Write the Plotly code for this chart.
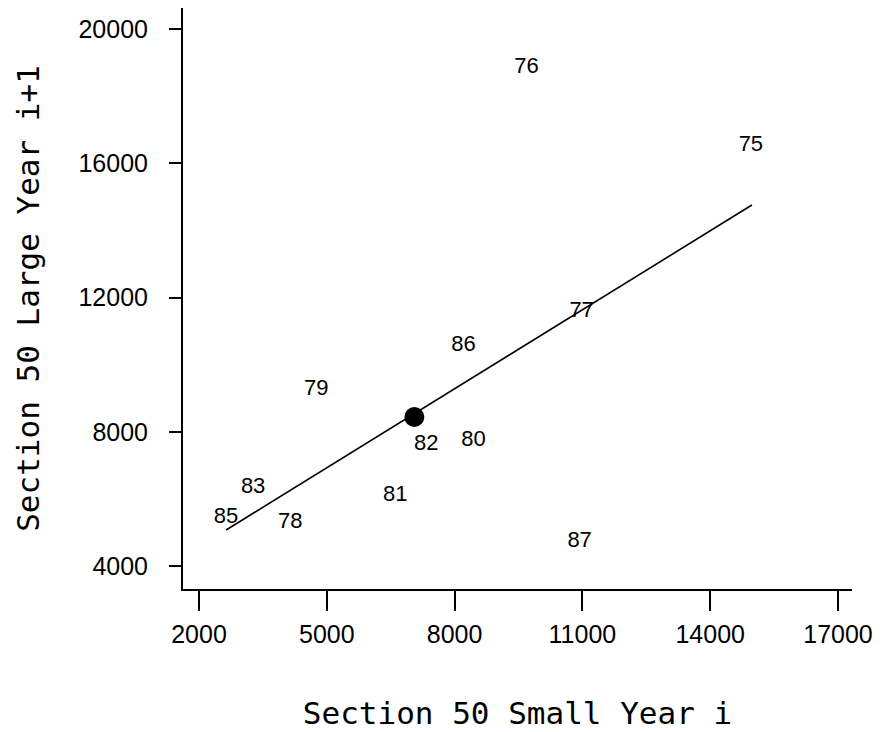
import plotly.graph_objects as go

# Data
years = ["75", "76", "77", "78", "79", "80", "81", "82", "83", "85", "86", "87"]
small_i = [14955, 9689, 10982, 4140, 4751, 8442, 6608, 7337, 3270, 2635, 8207, 10935]
large_i1 = [16543, 18868, 11597, 5310, 9273, 7753, 6115, 7634, 6353, 5459, 10584, 4744]

# Highlighted point (filled dot)
dot_x = [7055]
dot_y = [8439]

# Fitted line endpoints
fit_x = [2635, 14979]
fit_y = [5072, 14756]

x_ticks = [2000, 5000, 8000, 11000, 14000, 17000]
y_ticks = [4000, 8000, 12000, 16000, 20000]

fig = go.Figure()
fig.add_trace(go.Scatter(x=fit_x, y=fit_y, mode="lines",
                         line=dict(color="black", width=1.6), hoverinfo="skip"))
fig.add_trace(go.Scatter(x=dot_x, y=dot_y, mode="markers",
                         marker=dict(color="black", size=20)))
fig.add_trace(go.Scatter(x=small_i, y=large_i1, mode="text", text=years,
                         textposition="middle center",
                         textfont=dict(family="Liberation Sans", size=22, color="black")))

fig.update_layout(
    width=882, height=732,
    margin=dict(l=175, r=38, t=0, b=151, autoexpand=False),
    paper_bgcolor="white", plot_bgcolor="white",
    showlegend=False,
    font=dict(family="Liberation Sans", color="black"),
)
fig.update_xaxes(
    range=[1624, 17329], tickvals=x_ticks, ticktext=[str(v) for v in x_ticks],
    showgrid=False, zeroline=False, showline=True, linecolor="black", linewidth=2,
    ticks="outside", ticklen=20, tickwidth=2, tickcolor="black",
    tickfont=dict(family="Liberation Sans", size=25, color="black"),
    ticklabelstandoff=2,
    title=dict(text="Section 50 Small Year i", standoff=55,
               font=dict(family="DejaVu Sans Mono", size=31, color="black")),
    automargin=False,
)
fig.update_yaxes(
    range=[3315, 20626], tickvals=y_ticks, ticktext=[str(v) for v in y_ticks],
    showgrid=False, zeroline=False, showline=True, linecolor="black", linewidth=2,
    ticks="outside", ticklen=12, tickwidth=1.5, tickcolor="black",
    tickfont=dict(family="Liberation Sans", size=25, color="black"),
    ticklabelstandoff=16,
    title=dict(text="Section 50 Large Year i+1", standoff=30,
               font=dict(family="DejaVu Sans Mono", size=31, color="black")),
    automargin=False,
)

fig.write_html("out.html")
